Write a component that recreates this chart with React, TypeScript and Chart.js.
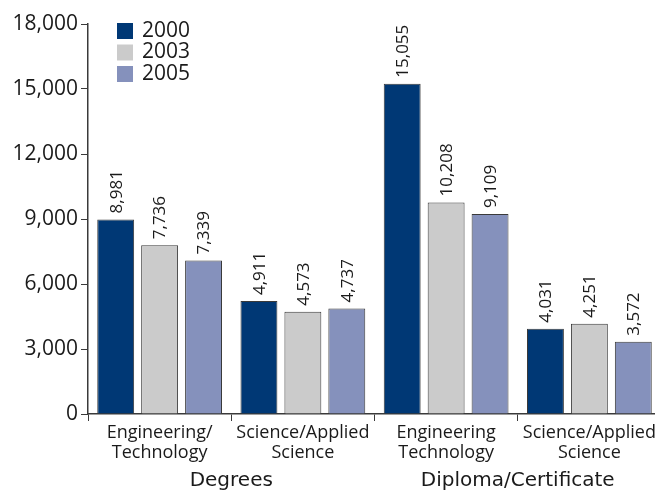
import React, { useEffect, useRef } from "react";
import { Chart, registerables } from "chart.js";

Chart.register(...registerables);

const CATEGORIES = [
  ["Engineering/", "Technology"],
  ["Science/Applied", "Science"],
  ["Engineering", "Technology"],
  ["Science/Applied", "Science"],
];
const GROUPS = ["Degrees", "Diploma/Certificate"];
const YEARS = ["2000", "2003", "2005"];

// bar heights as drawn in the picture
const VALUES_2000 = [8981, 5215, 15245, 3937];
const VALUES_2003 = [7790, 4721, 9766, 4168];
const VALUES_2005 = [7089, 4874, 9231, 3337];

// printed value labels
const LABELS_2000 = ["8,981", "4,911", "15,055", "4,031"];
const LABELS_2003 = ["7,736", "4,573", "10,208", "4,251"];
const LABELS_2005 = ["7,339", "4,737", "9,109", "3,572"];

const Y_MIN = 0;
const Y_MAX = 18000;
const Y_STEP = 3000;

const COLORS = ["#003875", "#cbcbcb", "#8591bc"];
const SANS = "'Open Sans', 'Noto Sans', sans-serif";
const TEXT = "#1a1a1a";

const valueLabelPlugin = {
  id: "valueLabels",
  afterDatasetsDraw(chart: any) {
    const labels = [LABELS_2000, LABELS_2003, LABELS_2005];
    const ctx = chart.ctx;
    ctx.save();
    ctx.font = `17px ${SANS}`;
    ctx.fillStyle = TEXT;
    ctx.textAlign = "left";
    ctx.textBaseline = "middle";
    chart.data.datasets.forEach((_: any, i: number) => {
      const meta = chart.getDatasetMeta(i);
      meta.data.forEach((bar: any, j: number) => {
        ctx.save();
        ctx.translate(bar.x + 1, bar.y - 6);
        ctx.rotate(-Math.PI / 2);
        ctx.fillText(labels[i][j], 0, 0);
        ctx.restore();
      });
    });
    ctx.restore();
  },
};

const groupLabelPlugin = {
  id: "groupLabels",
  afterDraw(chart: any) {
    const x = chart.scales.x;
    const ctx = chart.ctx;
    ctx.save();
    ctx.font = `20px 'DejaVu Sans', sans-serif`;
    ctx.fillStyle = TEXT;
    ctx.textAlign = "center";
    ctx.textBaseline = "middle";
    GROUPS.forEach((g, i) => {
      const cx = (x.getPixelForValue(2 * i) + x.getPixelForValue(2 * i + 1)) / 2;
      ctx.fillText(g, cx, 481);
    });
    ctx.restore();
  },
};

const legendPlugin = {
  id: "customLegend",
  afterDraw(chart: any) {
    const ctx = chart.ctx;
    ctx.save();
    ctx.font = `21px ${SANS}`;
    ctx.textAlign = "left";
    ctx.textBaseline = "middle";
    chart.data.datasets.forEach((ds: any, i: number) => {
      const y = 23 + i * 21.5;
      ctx.fillStyle = ds.backgroundColor;
      ctx.fillRect(117, y, 16, 16);
      ctx.fillStyle = TEXT;
      ctx.fillText(ds.label, 142, y + 8);
    });
    ctx.restore();
  },
};

export default function App() {
  const ref = useRef<HTMLCanvasElement>(null);

  useEffect(() => {
    if (!ref.current) return;
    const series = [VALUES_2000, VALUES_2003, VALUES_2005];
    const chart = new Chart(ref.current, {
      type: "bar",
      data: {
        labels: CATEGORIES,
        datasets: YEARS.map((y, i) => ({
          label: y,
          data: series[i],
          backgroundColor: COLORS[i],
          borderColor: "#3a3a3a",
          borderWidth: 1,
          categoryPercentage: 0.92,
          barPercentage: 0.84,
        })),
      },
      options: {
        animation: false,
        responsive: false,
        maintainAspectRatio: false,
        layout: { padding: { top: 24, right: 7, left: 0, bottom: 0 } },
        plugins: {
          legend: { display: false },
          tooltip: { enabled: false },
        },
        scales: {
          x: {
            offset: true,
            grid: {
              offset: true,
              drawOnChartArea: false,
              drawTicks: true,
              tickLength: 7,
              color: "#3a3a3a",
            },
            border: { display: true, color: "#3a3a3a", width: 1.5 },
            ticks: {
              autoSkip: false,
              maxRotation: 0,
              minRotation: 0,
              padding: 2,
              color: TEXT,
              font: { family: SANS, size: 18, lineHeight: 1.12 },
            },
            afterFit: (s: any) => {
              s.height = 76;
            },
          },
          y: {
            min: Y_MIN,
            max: Y_MAX,
            grid: {
              drawOnChartArea: false,
              drawTicks: true,
              tickLength: 7,
              color: "#3a3a3a",
            },
            border: { display: true, color: "#3a3a3a", width: 1.5 },
            ticks: {
              stepSize: Y_STEP,
              padding: 3,
              color: TEXT,
              font: { family: SANS, size: 21 },
              callback: (v: any) => Number(v).toLocaleString("en-US"),
            },
            afterFit: (s: any) => {
              s.width = 88;
            },
          },
        },
      },
      plugins: [valueLabelPlugin, groupLabelPlugin, legendPlugin],
    });
    return () => chart.destroy();
  }, []);

  return (
    <div
      style={{
        position: "fixed",
        left: 0,
        top: 0,
        width: 655,
        height: 490,
        overflow: "hidden",
        background: "#fff",
      }}
    >
      <canvas ref={ref} width={668} height={490} style={{ display: "block" }} />
    </div>
  );
}
